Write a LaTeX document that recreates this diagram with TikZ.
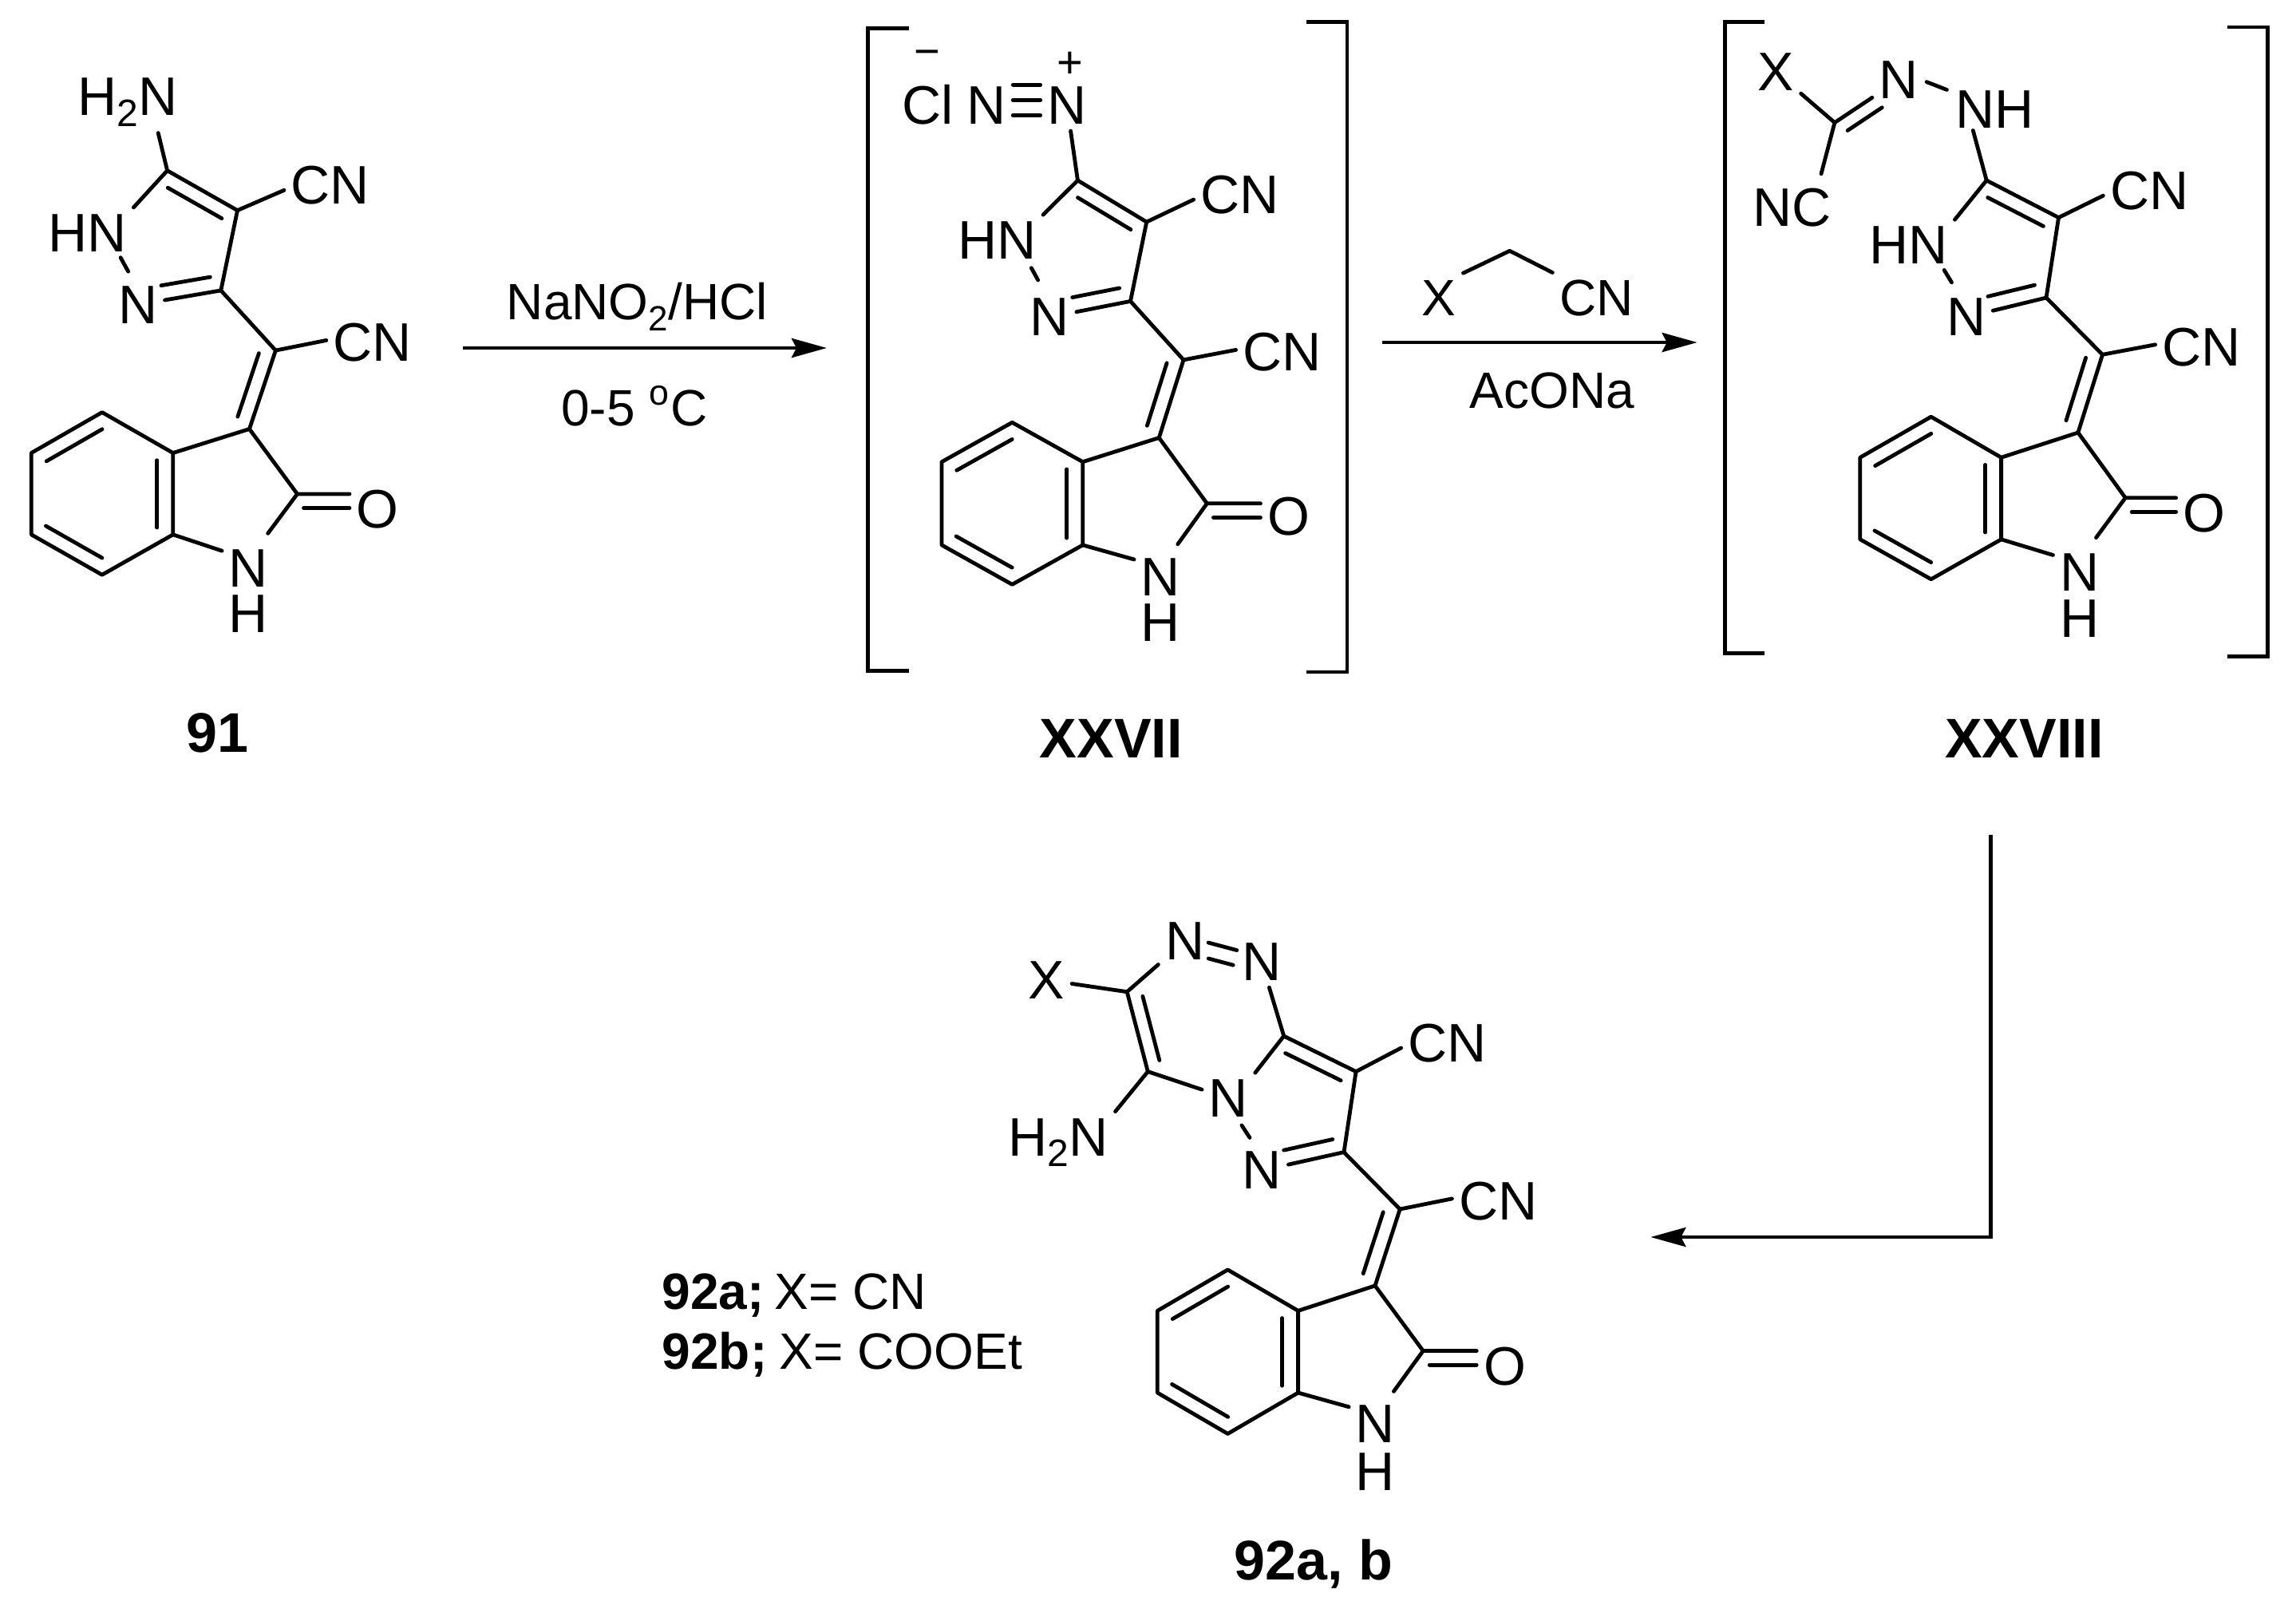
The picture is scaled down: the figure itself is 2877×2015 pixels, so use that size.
\documentclass[tikz,border=0pt]{standalone}
\usepackage{fontspec}
\setmainfont{Liberation Sans}
\usetikzlibrary{
    arrows.meta,
    calc,
}
\tikzset{
    >={Stealth[length=11pt,width=6pt,inset=1.5pt]}
}
\newcommand{\subt}[2][12]{\raisebox{-3.4pt}{\fontsize{#1}{#1}\selectfont #2}}
\newcommand{\dbl}[5]{\draw[bond,shorten <=#4,shorten >=#5] ($(#1)!#3!90:(#2)$) -- ($(#2)!#3!-90:(#1)$);}
\newcommand{\core}[1]{%
    \coordinate (coe#1) at (cco#1-|oxo#1.west);
    \draw[bond] (c5#1) -- (c4#1) -- (c3#1) -- (ch#1) -- (cb#1) -- (cco#1) -- (coe#1);
    \draw[bond] (cb#1) -- (btr#1) -- (btop#1) -- (bul#1) -- (bll#1) -- (bbot#1) -- (bbr#1) -- (btr#1);
    \draw[bond] (c4#1) -- ([yshift=-1.6pt]cnring#1.west);
    \draw[bond] (ch#1) -- ([yshift=.7pt]cnch#1.west);
    \draw[bond] (c3#1) -- (npy#1);
    \draw[bond] (bbr#1) -- (nh#1.147);
    \draw[bond] (cco#1) -- (enh#1);
    \dbl{c5#1}{c4#1}{-4.6pt}{2.8pt}{3pt}
    \dbl{c3#1}{npy#1}{-4.7pt}{2.6pt}{8.1pt}
    \dbl{ch#1}{cb#1}{-4.7pt}{2.5pt}{2.5pt}
    \dbl{btop#1}{bul#1}{4.6pt}{2.6pt}{2.8pt}
    \dbl{btr#1}{bbr#1}{-5pt}{2.3pt}{2.2pt}
    \dbl{bll#1}{bbot#1}{4.6pt}{2.6pt}{2.6pt}
    \dbl{cco#1}{coe#1}{-4.4pt}{2pt}{0pt}
}

\begin{document}
\begin{tikzpicture}[
    x=.25pt,y=-.25pt,
    bond/.style={line width=1.2pt,line cap=round,line join=round},
    brk/.style={line width=1.2pt,line join=miter},
    arr/.style={->,line width=1.2pt,line join=miter},
    atom/.style={anchor=base,inner sep=2pt,font=\fontsize{17}{17}\selectfont},
    charge/.style={anchor=base,inner sep=0pt,font=\fontsize{14}{14}\selectfont},
    reagent/.style={anchor=base,inner sep=2pt,font=\fontsize{16}{16}\selectfont},
    cmpd/.style={anchor=base,inner sep=0pt,font=\fontsize{17.5}{17.5}\selectfont\bfseries}
    ]
    \useasboundingbox (0,0) rectangle (2877,2015);

    \coordinate (c51) at (209.6,213.7);
    \coordinate (c41) at (297.5,263.6);
    \coordinate (c31) at (276.8,363.9);
    \coordinate (ch1) at (345.4,439.1);
    \coordinate (cb1) at (312.5,537.5);
    \coordinate (cco1) at (372.5,618.9);
    \coordinate (btr1) at (216.8,567.5);
    \coordinate (bbr1) at (216.8,669.8);
    \coordinate (btop1) at (127.9,516.6);
    \coordinate (bul1) at (39.3,567.5);
    \coordinate (bll1) at (39.3,669.8);
    \coordinate (bbot1) at (127.9,720.2);
    \coordinate (enh1) at (335.7,668.3);
    \coordinate (eamine1) at (198.2,166.6);
    \coordinate (enn1) at (151.1,322.7);
    \coordinate (enm1) at (160.7,340.2);
    \node[atom] (amine1) at (160,144.8) {H\subt{2}N};
    \node[atom] (hn1) at (109.5,315.5) {HN};
    \node[atom] (npy1) at (173.2,405.1) {N};
    \node[atom] (cnring1) at (413.9,255.3) {CN};
    \node[atom] (cnch1) at (466.8,452.6) {CN};
    \node[atom] (oxo1) at (473.2,661) {O};
    \node[atom] (nh1) at (311.4,735.2) {N};
    \node[atom] (hh1) at (311.4,792.9) {H};
    \core{1}
    \draw[bond] (eamine1) -- (c51);
    \draw[bond] (c51) -- (hn1.north east);
    \draw[bond] (enn1) -- (enm1);
    \node[cmpd] (label1) at (272.5,942.7) {91};

    \coordinate (a1s) at (580,436);
    \coordinate (a1e) at (1036,436);
    \draw[arr] (a1s) -- (a1e);
    \node[reagent] (nano) at (798.3,400.7) {NaNO\subt[11]{2}/HCl};
    \node[reagent] (temp) at (795,533) {0-5 \textsuperscript{o}C};

    \draw[brk] (1138.7,35.7) -- (1087.4,35.7) -- (1087.4,840.4) -- (1138.7,840.4);
    \draw[brk] (1636.6,27.4) -- (1688,27.4) -- (1688,842) -- (1636.6,842);
    \coordinate (c52) at (1350.4,226);
    \coordinate (c42) at (1436.7,278.1);
    \coordinate (c32) at (1416.5,377.4);
    \coordinate (ch2) at (1483,450.9);
    \coordinate (cb2) at (1452.3,548.5);
    \coordinate (cco2) at (1512.4,630.8);
    \coordinate (btr2) at (1356.7,578.7);
    \coordinate (bbr2) at (1356.7,682.9);
    \coordinate (btop2) at (1268.3,529.3);
    \coordinate (bul2) at (1180,578.7);
    \coordinate (bll2) at (1180,682.9);
    \coordinate (bbot2) at (1268.3,732.3);
    \coordinate (enh2) at (1475.8,681.8);
    \coordinate (enn2) at (1292.3,335.7);
    \coordinate (enm2) at (1300.7,351);
    \node[atom] (cl) at (1162.7,155.2) {Cl};
    \node[charge] (minus) at (1161.6,83) {−};
    \node[charge] (plus) at (1341.1,97.4) {+};
    \node[atom] (nl2) at (1235.9,155.2) {N};
    \node[atom] (nr2) at (1337,155.2) {N};
    \node[atom] (hn2) at (1249.2,324.7) {HN};
    \node[atom] (npy2) at (1315.5,420.7) {N};
    \node[atom] (cnring2) at (1553.5,267.1) {CN};
    \node[atom] (cnch2) at (1606.5,464.6) {CN};
    \node[atom] (oxo2) at (1614.7,670.3) {O};
    \node[atom] (nh2) at (1454.4,746) {N};
    \node[atom] (hh2) at (1454.4,803.6) {H};
    \core{2}
    \foreach \dy in {-3.2pt,1.6pt,6.4pt}
        \draw[bond] ([yshift=\dy]nl2.east) -- ([yshift=\dy]nr2.west);
    \draw[bond] (nr2) -- (c52);
    \draw[bond] (c52) -- (hn2.north east);
    \draw[bond] (enn2) -- (enm2);
    \node[cmpd] (label2) at (1392.2,949) {XXVII};

    \coordinate (a2s) at (1732.3,429);
    \coordinate (a2e) at (2126.7,429);
    \coordinate (ch2r) at (1891.7,314.3);
    \draw[arr] (a2s) -- (a2e);
    \node[reagent] (xr) at (1803.3,395) {X};
    \node[reagent] (cnr) at (2000.3,395) {CN};
    \node[reagent] (acona) at (1945,511.7) {AcONa};
    \draw[bond] (xr.north east) -- (ch2r) -- (cnr.north west);

    \draw[brk] (2210.5,27.4) -- (2161.2,27.4) -- (2161.2,818.4) -- (2210.5,818.4);
    \draw[brk] (2791,34) -- (2841.3,34) -- (2841.3,822.8) -- (2791,822.8);
    \coordinate (c53) at (2489.2,226);
    \coordinate (c43) at (2579.5,272.6);
    \coordinate (c33) at (2564,373);
    \coordinate (ch3) at (2634.5,444.3);
    \coordinate (cb3) at (2603.9,542);
    \coordinate (cco3) at (2663.2,623.7);
    \coordinate (btr3) at (2507.6,573.2);
    \coordinate (bbr3) at (2507.6,675.8);
    \coordinate (btop3) at (2419.7,522.2);
    \coordinate (bul3) at (2330.8,573.2);
    \coordinate (bll3) at (2330.8,675.8);
    \coordinate (bbot3) at (2419.7,725.7);
    \coordinate (cim) at (2298.9,153.6);
    \coordinate (enh3) at (2626.5,673.6);
    \coordinate (enn3) at (2436.1,338.4);
    \coordinate (enm3) at (2445.5,353.8);
    \coordinate (enc) at (2282,217.8);
    \coordinate (ehy1) at (2414,102.6);
    \coordinate (ehy2) at (2439.4,112.5);
    \coordinate (ehy3) at (2472.3,163.5);
    \node[atom] (x3) at (2225.1,113.5) {X};
    \node[atom] (nim) at (2379.3,123.4) {N};
    \node[atom] (nhy) at (2499.6,160.7) {NH};
    \node[atom] (nc3) at (2245.8,283.6) {NC};
    \node[atom] (hn3) at (2391.5,330.8) {HN};
    \node[atom] (npy3) at (2463.9,420.7) {N};
    \node[atom] (cnring3) at (2693.2,262.2) {CN};
    \node[atom] (cnch3) at (2758.6,458) {CN};
    \node[atom] (oxo3) at (2761.9,666.5) {O};
    \node[atom] (nh3) at (2605.8,740.5) {N};
    \node[atom] (hh3) at (2605.8,798.1) {H};
    \core{3}
    \draw[bond] (x3) -- (cim) -- (enc);
    \draw[bond] (cim) -- (nim);
    \dbl{cim}{nim}{-4.3pt}{2pt}{9.2pt}
    \draw[bond] (ehy1) -- (ehy2);
    \draw[bond] (ehy3) -- (c53);
    \draw[bond] (c53) -- (hn3.north east);
    \draw[bond] (enn3) -- (enm3);
    \node[cmpd] (label3) at (2536.3,949) {XXVIII};

    \coordinate (a3s) at (2494.3,1045.5);
    \coordinate (a3e) at (2068.3,1550);
    \draw[arr] (a3s) |- (a3e);

    \coordinate (c54) at (1608.7,1298.1);
    \coordinate (c44) at (1699.1,1342.6);
    \coordinate (c34) at (1684,1443.6);
    \coordinate (ch4) at (1754.2,1515);
    \coordinate (cb4) at (1723,1610.9);
    \coordinate (cco4) at (1783.2,1692.5);
    \coordinate (btr4) at (1626.6,1642.3);
    \coordinate (bbr4) at (1626.6,1745);
    \coordinate (btop4) at (1538.4,1590.9);
    \coordinate (bul4) at (1450.3,1642.3);
    \coordinate (bll4) at (1450.3,1745);
    \coordinate (bbot4) at (1538.4,1796.4);
    \coordinate (cx) at (1412.2,1242.7);
    \coordinate (cam) at (1438.3,1342.6);
    \coordinate (enh4) at (1746.4,1743.3);
    \coordinate (enn4) at (1555.9,1410);
    \coordinate (enm4) at (1566,1425.4);
    \node[atom] (na4) at (1484.7,1202.8) {N};
    \node[atom] (nb4) at (1580.7,1228.4) {N};
    \node[atom] (x4) at (1311.6,1251.3) {X};
    \node[atom] (nbr) at (1539.4,1399.7) {N};
    \node[atom] (amine4) at (1326.3,1448.2) {H\subt{2}N};
    \node[atom] (npy4) at (1581.1,1489.9) {N};
    \node[atom] (cnring4) at (1813.5,1330) {CN};
    \node[atom] (cnch4) at (1877.3,1528.1) {CN};
    \node[atom] (oxo4) at (1885.5,1735.3) {O};
    \node[atom] (nh4) at (1723.5,1807.8) {N};
    \node[atom] (hh4) at (1723.5,1867.7) {H};
    \core{4}
    \draw[bond] (x4) -- (cx) -- (cam) -- (nbr);
    \draw[bond] (cx) -- (na4);
    \draw[bond] (cam) -- (amine4.north east);
    \draw[bond] (nb4) -- (c54);
    \draw[bond] (c54) -- (nbr.north east);
    \draw[bond] (enn4) -- (enm4);
    \dbl{cx}{cam}{4.4pt}{2.6pt}{2.5pt}
    \dbl{na4}{nb4}{1.5pt}{7.2pt}{8.4pt}
    \dbl{na4}{nb4}{-3.3pt}{8.5pt}{8.3pt}
    \node[cmpd] (label4) at (1645.9,1979) {92a, b};

    \node[reagent,anchor=base west,inner sep=0pt] (lega) at (829,1640) {\textbf{92a;}\kern-1.2pt{} X= CN};
    \node[reagent,anchor=base west,inner sep=0pt] (legb) at (829,1715) {\textbf{92b;}\kern-.6pt{} X= COOEt};
\end{tikzpicture}
\end{document}
